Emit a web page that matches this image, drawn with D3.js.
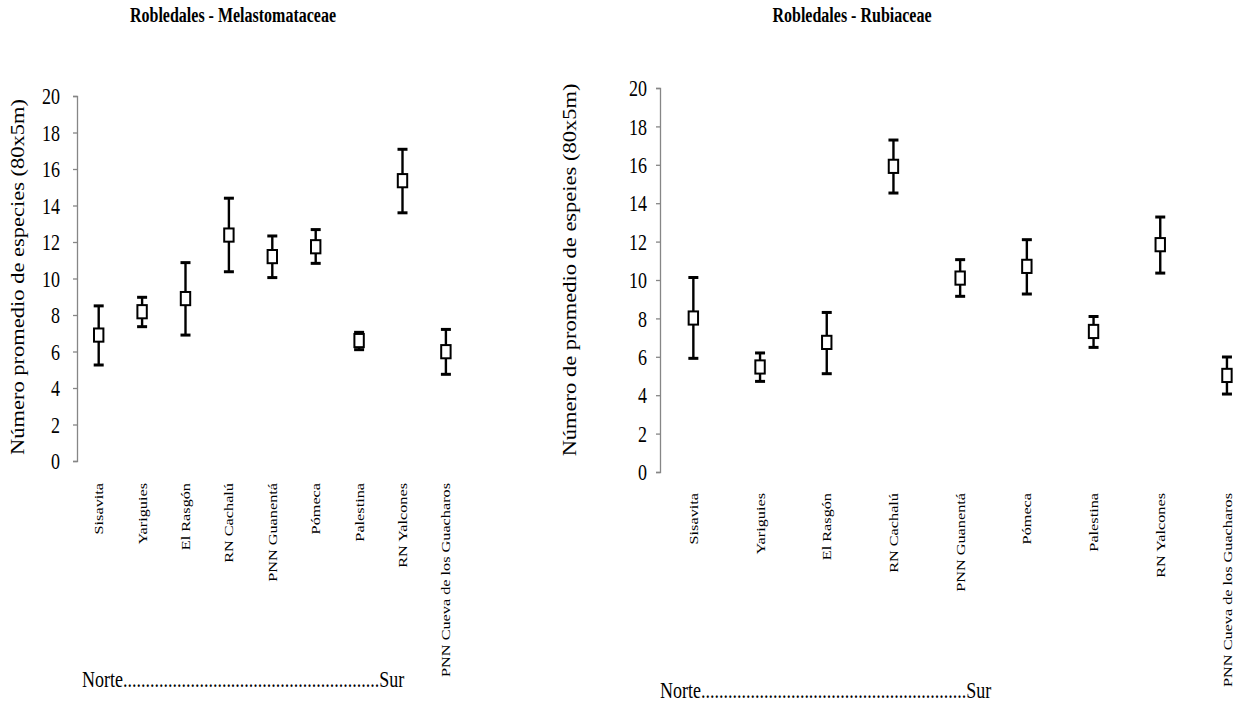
<!DOCTYPE html>
<html>
<head>
<meta charset="utf-8">
<script src="https://cdn.jsdelivr.net/npm/d3@7"></script>
<style>
  html, body { margin: 0; padding: 0; background: #fff; }
  svg text { font-family: 'Liberation Serif', 'DejaVu Serif', serif !important; fill: #000; }
</style>
</head>
<body>
<svg id="chart" width="1238" height="703"></svg>
<script>
// ---- data ----
const categories = ["Sisavita", "Yariguies", "El Rasgón", "RN Cachalú", "PNN Guanentá", "Pómeca", "Palestina", "RN Yalcones", "PNN Cueva de los Guacharos"];

const melaMean  = [6.9, 8.18, 8.9, 12.38, 11.2, 11.74, 6.6, 15.36, 5.99];
const melaUpper = [8.5, 8.97, 10.87, 14.4, 12.33, 12.68, 7.05, 17.08, 7.21];
const melaLower = [5.26, 7.36, 6.9, 10.37, 10.05, 10.83, 6.1, 13.6, 4.75];

const rubiMean  = [8.02, 5.47, 6.75, 15.92, 10.1, 10.71, 7.32, 11.84, 5.03];
const rubiUpper = [10.13, 6.2, 8.31, 17.29, 11.06, 12.1, 8.1, 13.28, 5.99];
const rubiLower = [5.92, 4.72, 5.12, 14.53, 9.15, 9.27, 6.49, 10.36, 4.06];

const yTicks = [0, 2, 4, 6, 8, 10, 12, 14, 16, 18, 20];

const titles = ["Robledales - Melastomataceae", "Robledales - Rubiaceae"];
const yTitles = ["Número promedio de especies (80x5m)", "Número de promedio de espeies (80x5m)"];
const northSouth = ["Norte", "Sur"];

const SY = 1.25; // vertical stretch of the original picture
const FONT = "'Liberation Serif', 'DejaVu Serif', serif";

const svg = d3.select("#chart");

function panel(cfg) {
  const g = svg.append("g");
  const y = d3.scaleLinear().domain([0, 20]).range([cfg.y0, cfg.y1]);
  const x = d3.scaleBand().domain(categories).range([cfg.x0, cfg.x0 + cfg.step * categories.length]).padding(0);

  // title
  g.append("text")
    .attr("transform", `translate(${cfg.titleX},${cfg.titleY}) scale(1,1.35)`)
    .attr("text-anchor", "middle")
    .style("font-family", FONT)
    .attr("font-size", 16)
    .attr("font-weight", "bold")
    .text(cfg.title);

  // y axis
  const ax = g.append("g")
    .attr("transform", `translate(${cfg.x0},0)`)
    .call(d3.axisLeft(y).tickValues(yTicks).tickFormat(d3.format("d")).tickSize(4).tickPadding(cfg.tickPad));
  ax.attr("font-family", null);
  ax.select(".domain").attr("stroke", "#868686").attr("stroke-width", 1.3);
  ax.selectAll(".tick line").attr("stroke", "#868686").attr("stroke-width", 1.3);
  ax.selectAll(".tick text")
    .style("font-family", FONT)
    .attr("font-size", 18)
    .attr("dy", "0.34em")
    .attr("transform", `scale(1,${SY})`);

  // y title
  g.append("text")
    .attr("transform", `translate(${cfg.ytX},${cfg.ytY}) scale(1,${SY}) rotate(-90)`)
    .attr("text-anchor", "middle")
    .style("font-family", FONT)
    .attr("font-size", 18)
    .text(cfg.yTitle);

  // x labels
  g.selectAll(".xl").data(categories).join("text")
    .attr("class", "xl")
    .attr("transform", d => `translate(${x(d) + x.bandwidth() / 2},${cfg.labelTop}) scale(1,${SY}) rotate(-90)`)
    .attr("text-anchor", "end")
    .attr("dy", "0.35em")
    .style("font-family", FONT)
    .attr("font-size", 13)
    .text(d => d);

  // error bars
  const data = categories.map((c, i) => ({ c, m: cfg.mean[i], hi: cfg.upper[i], lo: cfg.lower[i] }));
  const cx = d => x(d.c) + x.bandwidth() / 2;
  g.selectAll(".eb").data(data).join("line")
    .attr("x1", cx).attr("x2", cx)
    .attr("y1", d => y(d.hi)).attr("y2", d => y(d.lo))
    .attr("stroke", "#000").attr("stroke-width", 2.4);
  ["hi", "lo"].forEach(k => {
    g.selectAll(".cap-" + k).data(data).join("line")
      .attr("x1", d => cx(d) - 5).attr("x2", d => cx(d) + 5)
      .attr("y1", d => y(d[k])).attr("y2", d => y(d[k]))
      .attr("stroke", "#000").attr("stroke-width", 3);
  });
  g.selectAll(".mk").data(data).join("rect")
    .attr("x", d => cx(d) - 4.7).attr("y", d => y(d.m) - 6.6)
    .attr("width", 9.4).attr("height", 13.2)
    .attr("fill", "#fff").attr("stroke", "#000").attr("stroke-width", 2);

  // Norte .... Sur
  g.append("text")
    .attr("transform", `translate(${cfg.nsX},${cfg.nsY}) scale(1,${SY})`)
    .style("font-family", FONT)
    .attr("font-size", 18)
    .text(northSouth[0] + ".".repeat(cfg.dots) + northSouth[1]);
}

panel({
  title: titles[0], titleX: 233, titleY: 22,
  x0: 77, step: 43.4, y0: 461, y1: 96, tickPad: 13,
  yTitle: yTitles[0], ytX: 24, ytY: 277,
  labelTop: 483,
  mean: melaMean, upper: melaUpper, lower: melaLower,
  nsX: 82, nsY: 687, dots: 57
});

panel({
  title: titles[1], titleX: 852, titleY: 22,
  x0: 660, step: 66.7, y0: 472, y1: 88, tickPad: 9,
  yTitle: yTitles[1], ytX: 576, ytY: 270,
  labelTop: 493,
  mean: rubiMean, upper: rubiUpper, lower: rubiLower,
  nsX: 660, nsY: 698, dots: 59
});
</script>
</body>
</html>
